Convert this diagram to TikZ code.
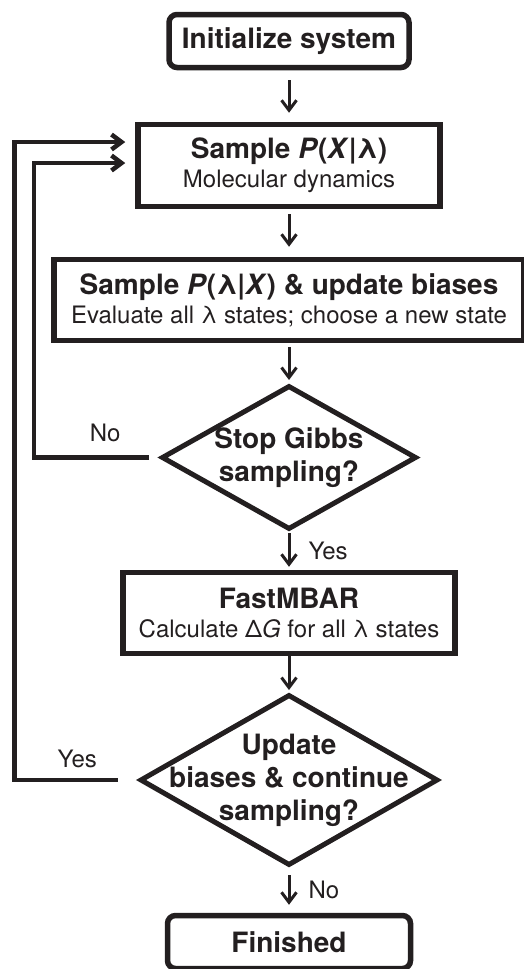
\documentclass[tikz,border=0pt]{standalone}
\usepackage{fontspec}
\setmainfont{TeX Gyre Heros}
\usetikzlibrary{arrows.meta,shapes.geometric}
\definecolor{flwink}{RGB}{35,31,32}
\newcommand{\flhead}{\fontsize{28}{33}\selectfont\bfseries}
\newcommand{\flbody}{\fontsize{24}{29}\selectfont}
\tikzset{
  flw_node/.style = {align=center, inner sep=0pt, text centered,
    font=\flbody, text=flwink},
  flw_t/.style = {flw_node, draw=flwink, rounded corners=8pt,
    line width=5.5pt, minimum width=240pt, minimum height=53pt},% start / end
  flw_b/.style = {flw_node, rectangle, draw=flwink,
    line width=5.5pt},% process box
  flw_d/.style = {flw_node, diamond, draw=flwink,
    line width=5pt},% decision
  flw_dt/.style = {flw_node, font=\flhead},% decision text
  flw_l/.style = {font=\flbody, text=flwink, inner sep=2pt},% Yes / No
  flw_a/.style = {-{Straight Barb[length=10pt,width=15pt]}, draw=flwink,
    line width=3pt},
  flw_loop/.style = {flw_a, line width=4.5pt}
}

\begin{document}
\begin{tikzpicture}[x=1pt, y=-1pt]
\useasboundingbox (0,0) rectangle (524,969);
% boxes
\node [flw_t] (init) at (289,41) {\flhead Initialize system};
\node [flw_b, minimum width=302pt, minimum height=82pt] (sampx) at (289,165.5)
  {{\flhead Sample \textit{P}(\textit{X}|λ)}\\ Molecular dynamics};
\node [flw_b, minimum width=470pt, minimum height=81pt] (sampl) at (289,300)
  {{\flhead Sample \textit{P}(λ|\textit{X}) \& update biases}\\
   Evaluate all λ states; choose a new state};
\node [flw_d, minimum width=255pt, minimum height=144pt,
  label={[flw_dt]center:{Stop Gibbs\\sampling?}}] (stop) at (289,457.5) {};
\node [flw_b, minimum width=332pt, minimum height=81pt] (fast) at (289,613)
  {{\flhead FastMBAR}\\ Calculate Δ\textit{G} for all λ states};
\node [flw_d, minimum width=298pt, minimum height=171pt,
  label={[flw_dt]center:{Update\\biases \& continue\\sampling?}}] (upd) at (289,780) {};
\node [flw_t, minimum width=243pt] (fin) at (289,942) {\flhead Finished};
% main flow
\draw [flw_a, shorten <=10pt, shorten >=9pt] (init) -- (sampx);
\draw [flw_a, shorten <=5pt, shorten >=10pt] (sampx) -- (sampl);
\draw [flw_a, shorten <=4pt, shorten >=3pt] (sampl) -- (stop);
\draw [flw_a, shorten <=1pt, shorten >=3pt] (stop) -- node[flw_l, right=16pt] {Yes} (fast);
\draw [flw_a, shorten <=0pt, shorten >=2pt] (fast) -- (upd);
\draw [flw_a, shorten <=7pt, shorten >=8pt] (upd) -- node[flw_l, right=16pt] {No} (fin);
% loops back
\draw [flw_loop, shorten <=10pt, shorten >=10pt] (stop.west)
  -- node[flw_l, above=11pt, pos=0.43] {No} ++(-125pt,0)
  |- ([yshift=2.5pt]sampx.west);
\draw [flw_loop, shorten <=20pt, shorten >=10pt] (upd.west)
  -- node[flw_l, above=8pt, pos=0.49] {Yes} ++(-123pt,0)
  |- ([yshift=23.5pt]sampx.west);
\end{tikzpicture}
\end{document}
